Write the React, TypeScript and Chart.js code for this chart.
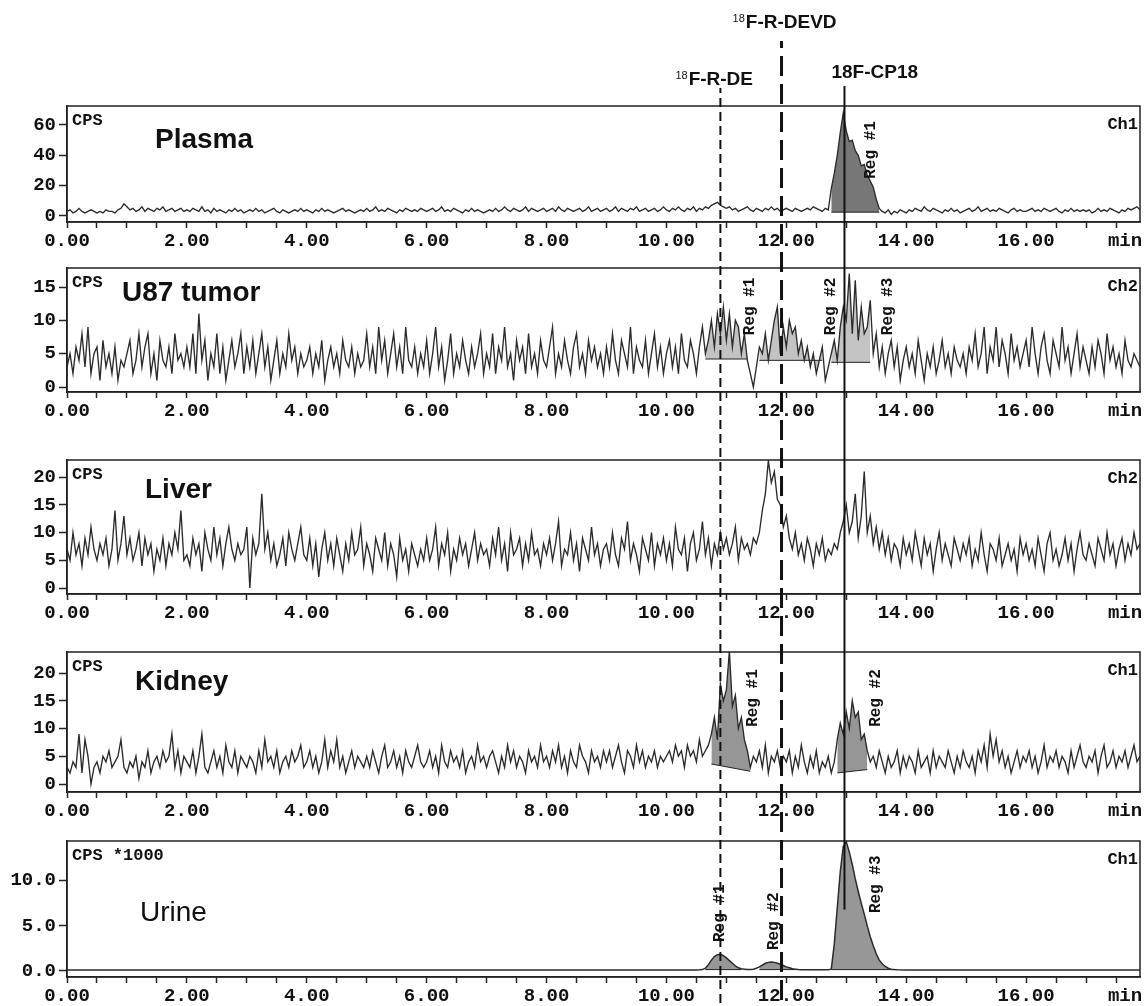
import React, { useEffect, useRef } from 'react';
import { Chart, registerables } from 'chart.js';

Chart.register(...registerables);

// ---------- DATA ----------
const STEP = 0.05; // minutes between samples of the noisy traces

const plasmaValues = [
  3,4,2,3,5,3,2,3,4,3,2,3,2,4,3,3,2,4,5,8,
  6,4,5,3,4,6,3,5,4,3,5,4,6,3,4,5,3,4,5,3,
  4,3,5,4,3,6,3,4,2,5,3,4,3,2,4,3,5,3,4,2,
  3,4,3,5,3,4,2,3,4,5,3,2,4,3,2,3,4,3,5,3,
  4,3,2,4,3,5,3,4,3,2,3,4,5,3,4,3,2,3,4,3,
  5,3,4,6,3,4,3,5,4,3,2,4,3,5,4,3,4,3,5,4,
  3,4,5,3,4,6,3,4,3,5,4,3,2,4,3,5,3,4,3,2,
  3,4,3,5,3,4,6,4,3,5,4,3,4,6,3,5,4,3,4,5,
  3,4,5,3,6,4,3,5,4,3,4,5,3,4,6,3,4,5,3,4,
  5,3,4,6,3,5,4,3,5,4,6,3,4,5,3,4,5,3,4,6,
  4,3,5,4,6,4,3,5,4,6,3,5,4,6,5,7,8,9,7,6,
  5,6,4,5,3,4,5,6,4,3,5,4,3,5,4,6,4,5,3,4,
  5,4,3,5,4,3,4,5,4,6,5,4,3,5,4,18,28,40,55,68,
  56,49,50,43,40,33,34,27,23,19,11,5,3,2,4,1,3,2,4,3,
  2,4,3,5,4,3,6,4,3,5,4,3,2,4,3,5,3,4,2,3,
  4,5,3,4,6,3,4,5,3,4,3,5,4,3,2,4,5,3,4,3,
  3,4,5,3,4,3,5,4,3,4,5,3,2,4,3,5,3,4,3,4,
  3,4,2,3,5,3,4,3,5,4,3,2,4,3,5,4,5,6,4,
];

const u87Values = [
  3,5,2,6,4,8,3,9,2,5,6,1,7,3,5,2,6,1,4,3,
  5,7,2,4,8,3,6,8,2,5,1,7,4,3,6,2,8,4,5,3,
  6,3,8,2,11,4,7,1,5,3,8,2,6,1,4,7,3,5,8,2,
  6,3,7,2,5,8,3,6,1,4,7,2,5,3,8,4,6,2,5,3,
  4,6,2,5,3,7,1,4,6,3,5,2,7,4,3,6,2,5,3,4,
  8,3,6,2,9,4,7,2,5,8,3,6,2,9,4,3,6,2,5,3,
  7,2,5,9,3,6,1,4,8,2,5,3,7,4,2,6,3,5,8,2,
  5,3,8,2,6,4,9,3,5,1,7,4,6,2,8,3,5,2,7,4,
  3,6,9,2,5,3,7,4,2,6,8,3,5,2,7,4,6,3,5,2,
  6,3,8,4,2,7,5,3,9,2,6,4,3,7,2,5,8,3,6,2,
  5,7,3,6,2,8,4,3,7,5,2,6,9,5,7,10,6,11,8,12,
  7,11,6,10,9,5,8,4,2,0,3,6,5,8,4,7,10,12,5,9,
  6,10,8,9,5,7,4,6,3,5,2,4,6,1,3,5,7,4,9,12,
  10,17,8,16,7,12,8,9,13,5,8,3,6,2,5,7,3,6,1,4,
  6,3,5,2,7,4,1,5,3,6,2,4,7,3,5,2,6,4,3,5,
  2,6,4,8,3,5,9,2,6,4,9,3,7,5,2,8,4,6,3,5,
  7,3,9,5,2,6,8,4,2,7,5,3,9,4,6,2,5,8,3,6,
  4,2,6,3,7,5,2,8,4,6,3,5,2,7,4,3,5,4,3,
];

const liverValues = [
  7,5,10,6,8,4,9,6,11,7,5,8,6,9,4,7,14,5,8,13,
  6,9,5,7,10,4,9,6,8,3,7,5,9,4,8,6,10,7,14,5,
  6,4,9,6,8,3,10,7,5,11,6,9,4,8,11,7,5,8,6,7,
  11,0,9,6,8,17,7,10,5,8,4,6,9,4,10,7,5,8,11,6,
  5,9,4,8,2,7,10,5,8,4,9,6,3,8,5,10,6,7,11,4,
  8,6,3,9,7,5,10,4,8,6,2,9,5,7,3,8,6,4,7,5,
  9,5,7,11,4,8,6,10,3,7,5,9,6,8,4,7,10,5,8,6,
  7,4,9,6,11,5,8,3,10,6,7,9,4,8,5,10,6,7,4,8,
  6,9,5,8,12,4,7,6,10,5,8,3,9,7,5,11,6,8,4,7,
  8,5,10,6,4,9,7,12,5,8,6,3,9,7,5,10,4,8,6,9,
  5,8,4,11,7,6,9,3,8,10,5,7,12,6,9,4,8,6,10,7,
  9,6,8,11,5,9,7,8,6,9,8,10,14,17,23,19,21,16,15,11,
  13,9,7,10,6,8,5,9,7,4,8,6,9,5,7,6,8,7,10,12,
  15,10,12,17,9,13,21,10,13,8,11,7,10,6,9,5,8,7,4,9,
  6,8,5,10,7,4,9,6,8,3,7,10,5,8,6,4,9,7,5,8,
  6,9,4,7,5,10,6,3,8,7,5,9,4,6,8,5,7,3,9,6,
  8,5,7,4,9,6,3,8,10,5,7,4,6,9,5,8,3,7,10,6,
  5,8,6,4,9,7,5,10,6,8,4,7,9,5,8,6,10,7,8,
];

const kidneyValues = [
  3,2,4,3,9,2,8,5,0,3,4,2,5,4,6,3,4,5,8,3,
  2,4,3,5,1,4,3,6,2,4,5,3,6,4,5,9,3,6,2,5,
  4,3,6,2,5,9,3,2,4,6,3,5,2,7,4,3,6,2,5,4,
  3,5,4,2,6,3,8,4,5,3,6,2,4,5,3,6,4,5,7,3,
  4,6,3,5,2,4,8,3,6,4,8,3,5,2,4,6,3,5,4,3,
  5,3,6,4,2,5,7,3,4,6,3,5,2,6,4,3,5,7,4,3,
  4,6,3,5,2,7,4,3,6,4,5,3,6,2,4,5,3,7,4,5,
  3,5,6,4,2,5,3,7,4,6,3,5,4,2,6,4,5,3,7,4,
  5,3,6,4,7,3,5,2,6,4,3,7,5,4,2,6,4,5,3,6,
  4,6,3,5,7,4,2,6,5,3,7,4,6,3,5,4,6,3,5,4,
  5,6,4,7,5,6,3,7,5,6,4,8,5,6,7,9,12,8,18,15,
  17,24,14,16,10,12,8,6,3,5,4,6,3,7,2,5,4,6,3,5,
  4,6,2,5,3,7,4,2,5,3,6,2,4,3,5,2,4,8,11,9,
  13,10,15,12,13,8,9,6,4,5,3,6,4,2,5,3,4,6,2,5,
  3,5,4,2,6,3,4,5,2,6,3,5,4,3,6,4,2,5,3,6,
  4,3,5,2,6,4,7,3,9,5,8,4,6,3,5,2,4,6,3,5,
  4,6,3,5,2,4,7,3,5,4,6,3,5,4,2,6,3,5,7,4,
  3,5,4,6,2,5,7,3,4,6,3,5,4,6,3,5,7,4,5,
];

// urine (CPS*1000) sampled at explicit times
const urineTimes = [
  0, 2, 4, 6, 8, 10, 10.5,
  10.55, 10.6, 10.65, 10.7, 10.75, 10.8, 10.85, 10.9, 10.95, 11.0,
  11.05, 11.1, 11.15, 11.2, 11.25, 11.3, 11.35, 11.4, 11.45, 11.5,
  11.55, 11.6, 11.65, 11.7, 11.75, 11.8, 11.85, 11.9, 11.95, 12.0,
  12.05, 12.1, 12.15, 12.2, 12.25, 12.3, 12.4, 12.5, 12.6, 12.7,
  12.75, 12.8, 12.85, 12.9, 12.95, 13.0, 13.05, 13.1, 13.15, 13.2,
  13.25, 13.3, 13.35, 13.4, 13.45, 13.5, 13.55, 13.6, 13.65, 13.7,
  13.75, 13.8, 13.85, 14, 15, 16, 17, 17.9,
];
const urineValues = [
  0.1, 0.1, 0.1, 0.1, 0.1, 0.1, 0.11,
  0.12, 0.15, 0.3, 0.7, 1.2, 1.6, 1.8, 1.85, 1.7, 1.45,
  1.15, 0.85, 0.55, 0.35, 0.25, 0.2, 0.15, 0.15, 0.2, 0.3,
  0.45, 0.65, 0.85, 0.95, 1.0, 0.95, 0.85, 0.75, 0.6, 0.45,
  0.35, 0.25, 0.2, 0.15, 0.13, 0.12, 0.12, 0.12, 0.12, 0.13,
  0.2, 3.0, 7.0, 11.0, 13.8, 14.3, 13.2, 11.8, 10.2, 8.8,
  7.5, 6.3, 5.0, 3.8, 2.8, 1.9, 1.2, 0.8, 0.5, 0.3,
  0.2, 0.15, 0.12, 0.1, 0.1, 0.1, 0.1, 0.1,
];

// integration regions: time span and baseline values at both ends
const plasmaRegions = [{ start: 12.75, end: 13.55, baseStart: 2.5, baseEnd: 2.5 }];
const u87Regions = [
  { start: 10.65, end: 11.35, baseStart: 4.2, baseEnd: 4.2 },
  { start: 11.55, end: 12.6, baseStart: 4.0, baseEnd: 4.0 },
  { start: 12.75, end: 13.4, baseStart: 3.7, baseEnd: 3.7 },
];
const liverRegions: { start: number; end: number; baseStart: number; baseEnd: number }[] = [];
const kidneyRegions = [
  { start: 10.75, end: 11.4, baseStart: 3.6, baseEnd: 2.3 },
  { start: 12.85, end: 13.35, baseStart: 2.0, baseEnd: 2.6 },
];
const urineRegions = [
  { start: 10.65, end: 11.25, baseStart: 0.15, baseEnd: 0.15 },
  { start: 11.55, end: 12.15, baseStart: 0.15, baseEnd: 0.15 },
  { start: 12.75, end: 13.8, baseStart: 0.15, baseEnd: 0.15 },
];

const plasmaRegLabels = [{ text: 'Reg #1', x: 13.42, y: 43.5 }];
const u87RegLabels = [
  { text: 'Reg #1', x: 11.4, y: 12.1 },
  { text: 'Reg #2', x: 12.74, y: 12.1 },
  { text: 'Reg #3', x: 13.69, y: 12.1 },
];
const kidneyRegLabels = [
  { text: 'Reg #1', x: 11.45, y: 15.5 },
  { text: 'Reg #2', x: 13.49, y: 15.5 },
];
const urineRegLabels = [
  { text: 'Reg #1', x: 10.9, y: 6.4 },
  { text: 'Reg #2', x: 11.8, y: 5.5 },
  { text: 'Reg #3', x: 13.49, y: 9.6 },
];

// axis ticks
const xLabelValues = [0, 2, 4, 6, 8, 10, 12, 14, 16];
const xLabelTexts = ['0.00', '2.00', '4.00', '6.00', '8.00', '10.00', '12.00', '14.00', '16.00'];
const X_MAX = 17.9;
const MINOR_STEP = 0.5;
const UNIT_TICK = 17.65;
const UNIT_TEXT = 'min';

const plasmaYTicks = [0, 20, 40, 60];
const plasmaYLabels = ['0', '20', '40', '60'];
const u87YTicks = [0, 5, 10, 15];
const u87YLabels = ['0', '5', '10', '15'];
const liverYTicks = [0, 5, 10, 15, 20];
const liverYLabels = ['0', '5', '10', '15', '20'];
const kidneyYTicks = [0, 5, 10, 15, 20];
const kidneyYLabels = ['0', '5', '10', '15', '20'];
const urineYTicks = [0, 5, 10];
const urineYLabels = ['0.0', '5.0', '10.0'];

// reference compounds (retention times)
const markerTimes = [10.9, 11.92, 12.97];
const markerNames = ['F-R-DE', 'F-R-DEVD', '18F-CP18'];
const markerSups = ['18', '18', ''];
const cp18EndValue = 6.8; // the solid line stops inside the urine panel

// ---------- LAYOUT / STYLE ----------
const markerStyles = [
  { dash: [9, 5], width: 2, rise: 18, labelDx: -45, labelDy: -26, color: '#111' },
  { dash: [20, 8], width: 3, rise: 65, labelDx: -49, labelDy: -83, color: '#111' },
  { dash: [] as number[], width: 2, rise: 20, labelDx: -13, labelDy: -33, color: '#111' },
];

type Region = { start: number; end: number; baseStart: number; baseEnd: number };
type RegLabel = { text: string; x: number; y: number };

const panels = [
  {
    title: 'Plasma', weight: 'bold', titleX: 155, titleDy: 34, unit: 'CPS', channel: 'Ch1',
    times: null as number[] | null, values: plasmaValues, yMin: -4, yMax: 72.5,
    yTicks: plasmaYTicks, yLabels: plasmaYLabels, regions: plasmaRegions as Region[],
    regLabels: plasmaRegLabels as RegLabel[], fill: 'rgba(85,85,85,0.8)',
    top: 0, height: 250, padTop: 106, xAxisH: 28,
  },
  {
    title: 'U87 tumor', weight: 'bold', titleX: 122, titleDy: 25, unit: 'CPS', channel: 'Ch2',
    times: null, values: u87Values, yMin: -0.75, yMax: 17.85,
    yTicks: u87YTicks, yLabels: u87YLabels, regions: u87Regions, regLabels: u87RegLabels,
    fill: 'rgba(175,175,175,0.75)',
    top: 250, height: 190, padTop: 18, xAxisH: 48,
  },
  {
    title: 'Liver', weight: 'bold', titleX: 145, titleDy: 30, unit: 'CPS', channel: 'Ch2',
    times: null, values: liverValues, yMin: -1.08, yMax: 23.1,
    yTicks: liverYTicks, yLabels: liverYLabels, regions: liverRegions, regLabels: [] as RegLabel[],
    fill: 'rgba(150,150,150,0.7)',
    top: 440, height: 190, padTop: 20, xAxisH: 36,
  },
  {
    title: 'Kidney', weight: 'bold', titleX: 135, titleDy: 30, unit: 'CPS', channel: 'Ch1',
    times: null, values: kidneyValues, yMin: -1.44, yMax: 23.8,
    yTicks: kidneyYTicks, yLabels: kidneyYLabels, regions: kidneyRegions, regLabels: kidneyRegLabels,
    fill: 'rgba(115,115,115,0.75)',
    top: 630, height: 188, padTop: 22, xAxisH: 26,
  },
  {
    title: 'Urine', weight: 'normal', titleX: 140, titleDy: 72, unit: 'CPS *1000', channel: 'Ch1',
    times: urineTimes, values: urineValues, yMin: -0.67, yMax: 14.4,
    yTicks: urineYTicks, yLabels: urineYLabels, regions: urineRegions, regLabels: urineRegLabels,
    fill: 'rgba(125,125,125,0.8)',
    top: 818, height: 188, padTop: 23, xAxisH: 29,
  },
];

type Panel = (typeof panels)[number];

const MONO = '"Liberation Mono", "DejaVu Sans Mono", monospace';
const SANS = '"Liberation Sans", Arial, sans-serif';

function tracePoints(p: Panel) {
  return p.values.map((v, i) => ({
    x: p.times ? p.times[i] : Math.round(i * STEP * 100) / 100,
    y: v,
  }));
}

function buildDatasets(p: Panel) {
  const pts = tracePoints(p);
  const ds: any[] = [
    {
      data: pts,
      borderColor: '#2b2b2b',
      borderWidth: p.times ? 1.5 : 1.35,
      pointRadius: 0,
      tension: 0,
      fill: false,
      order: 0,
    },
  ];
  p.regions.forEach((r) => {
    const seg = pts.filter((q) => q.x >= r.start - 1e-6 && q.x <= r.end + 1e-6);
    ds.push({
      data: seg,
      borderWidth: 0,
      borderColor: 'rgba(0,0,0,0)',
      backgroundColor: p.fill,
      pointRadius: 0,
      tension: 0,
      fill: '+1',
      order: 2,
    });
    ds.push({
      data: [
        { x: r.start, y: r.baseStart },
        { x: r.end, y: r.baseEnd },
      ],
      borderColor: '#222',
      borderWidth: 1,
      pointRadius: 0,
      fill: false,
      order: 1,
    });
  });
  return ds;
}

function xTickValues() {
  const out: number[] = [];
  for (let k = 0; k * MINOR_STEP <= 17.5 + 1e-9; k++) out.push(k * MINOR_STEP);
  out.push(UNIT_TICK);
  return out;
}

function makeDecor(p: Panel, index: number) {
  return {
    id: 'decor' + index,
    afterDraw(chart: any) {
      const { ctx, chartArea: a, scales } = chart;
      ctx.save();
      // frame
      ctx.strokeStyle = '#222';
      ctx.lineWidth = 1.5;
      ctx.setLineDash([]);
      ctx.strokeRect(a.left, a.top, a.right - a.left, a.bottom - a.top);

      // corner texts
      ctx.fillStyle = '#111';
      ctx.font = `bold 17px ${MONO}`;
      ctx.textAlign = 'left';
      ctx.textBaseline = 'top';
      ctx.fillText(p.unit, a.left + 5, a.top + 6);
      ctx.textAlign = 'right';
      ctx.fillText(p.channel, a.right - 2, a.top + 10);

      // title
      ctx.font = `${p.weight} 28px ${SANS}`;
      ctx.textAlign = 'left';
      ctx.textBaseline = 'middle';
      ctx.fillText(p.title, p.titleX, a.top + p.titleDy);

      // region labels (rotated)
      ctx.font = `bold 16px ${MONO}`;
      p.regLabels.forEach((r) => {
        const x = scales.x.getPixelForValue(r.x);
        const y = scales.y.getPixelForValue(r.y);
        ctx.save();
        ctx.translate(x, y);
        ctx.rotate(-Math.PI / 2);
        ctx.textAlign = 'center';
        ctx.textBaseline = 'middle';
        ctx.fillText(r.text, 0, 0);
        ctx.restore();
      });

      // reference compound lines
      markerTimes.forEach((t, m) => {
        const st = markerStyles[m];
        const x = scales.x.getPixelForValue(t);
        let y0 = 0;
        let y1 = chart.height;
        if (index === 0) y0 = a.top - st.rise;
        if (index === panels.length - 1 && m === 2) y1 = scales.y.getPixelForValue(cp18EndValue);
        ctx.beginPath();
        ctx.strokeStyle = st.color;
        ctx.lineWidth = st.width;
        ctx.setLineDash(st.dash);
        ctx.lineDashOffset = p.top + y0;
        ctx.moveTo(x, y0);
        ctx.lineTo(x, y1);
        ctx.stroke();
        ctx.setLineDash([]);

        if (index === 0) {
          let lx = x + st.labelDx;
          const ly = a.top + st.labelDy;
          ctx.fillStyle = '#111';
          ctx.textAlign = 'left';
          ctx.textBaseline = 'middle';
          if (markerSups[m]) {
            ctx.font = `11px ${SANS}`;
            ctx.fillText(markerSups[m], lx, ly - 4);
            lx += ctx.measureText(markerSups[m]).width + 1;
          }
          ctx.font = `bold 19px ${SANS}`;
          ctx.fillText(markerNames[m], lx, ly);
        }
      });
      ctx.restore();
    },
  };
}

function buildConfig(p: Panel, index: number): any {
  const ticks = xTickValues();
  return {
    type: 'line',
    data: { datasets: buildDatasets(p) },
    options: {
      responsive: false,
      animation: false,
      devicePixelRatio: 1,
      events: [],
      layout: { padding: { top: p.padTop, right: 5, left: 0, bottom: 0 } },
      plugins: { legend: { display: false }, tooltip: { enabled: false } },
      scales: {
        x: {
          type: 'linear',
          min: 0,
          max: X_MAX,
          afterBuildTicks: (s: any) => {
            s.ticks = ticks.map((v) => ({ value: v }));
          },
          afterFit: (s: any) => {
            s.height = p.xAxisH;
          },
          grid: {
            drawOnChartArea: false,
            drawTicks: true,
            tickLength: 6,
            tickColor: (c: any) =>
              c.tick && Math.abs(c.tick.value - UNIT_TICK) < 1e-6 ? 'rgba(0,0,0,0)' : '#222',
            tickWidth: 1.5,
          },
          border: { display: true, color: '#222', width: 1.5 },
          ticks: {
            autoSkip: false,
            maxRotation: 0,
            minRotation: 0,
            padding: 2,
            color: '#111',
            font: { family: MONO, size: 19, weight: 'bold' },
            callback: (v: number) => {
              if (Math.abs(v - UNIT_TICK) < 1e-6) return UNIT_TEXT;
              const k = xLabelValues.indexOf(v);
              return k >= 0 ? xLabelTexts[k] : '';
            },
          },
        },
        y: {
          type: 'linear',
          min: p.yMin,
          max: p.yMax,
          afterBuildTicks: (s: any) => {
            s.ticks = p.yTicks.map((v) => ({ value: v }));
          },
          afterFit: (s: any) => {
            s.width = 67;
          },
          grid: {
            drawOnChartArea: false,
            drawTicks: true,
            tickLength: 8,
            tickColor: '#222',
            tickWidth: 1.5,
          },
          border: { display: true, color: '#222', width: 1.5 },
          ticks: {
            padding: 3,
            color: '#111',
            font: { family: MONO, size: 19, weight: 'bold' },
            callback: (v: number) => {
              const k = p.yTicks.indexOf(v);
              return k >= 0 ? p.yLabels[k] : '';
            },
          },
        },
      },
    },
    plugins: [makeDecor(p, index)],
  };
}

export default function App() {
  const refs = useRef<(HTMLCanvasElement | null)[]>([]);
  useEffect(() => {
    const charts = panels.map((p, i) => new Chart(refs.current[i] as HTMLCanvasElement, buildConfig(p, i)));
    return () => charts.forEach((c) => c.destroy());
  }, []);
  return (
    <div style={{ position: 'absolute', left: 0, top: 0, width: 1145, height: 1006, background: '#fff', overflow: 'hidden' }}>
      {panels.map((p, i) => (
        <canvas
          key={i}
          ref={(el) => {
            refs.current[i] = el;
          }}
          width={1145}
          height={p.height}
          style={{ position: 'absolute', left: 0, top: p.top, width: 1145, height: p.height, display: 'block' }}
        />
      ))}
    </div>
  );
}
